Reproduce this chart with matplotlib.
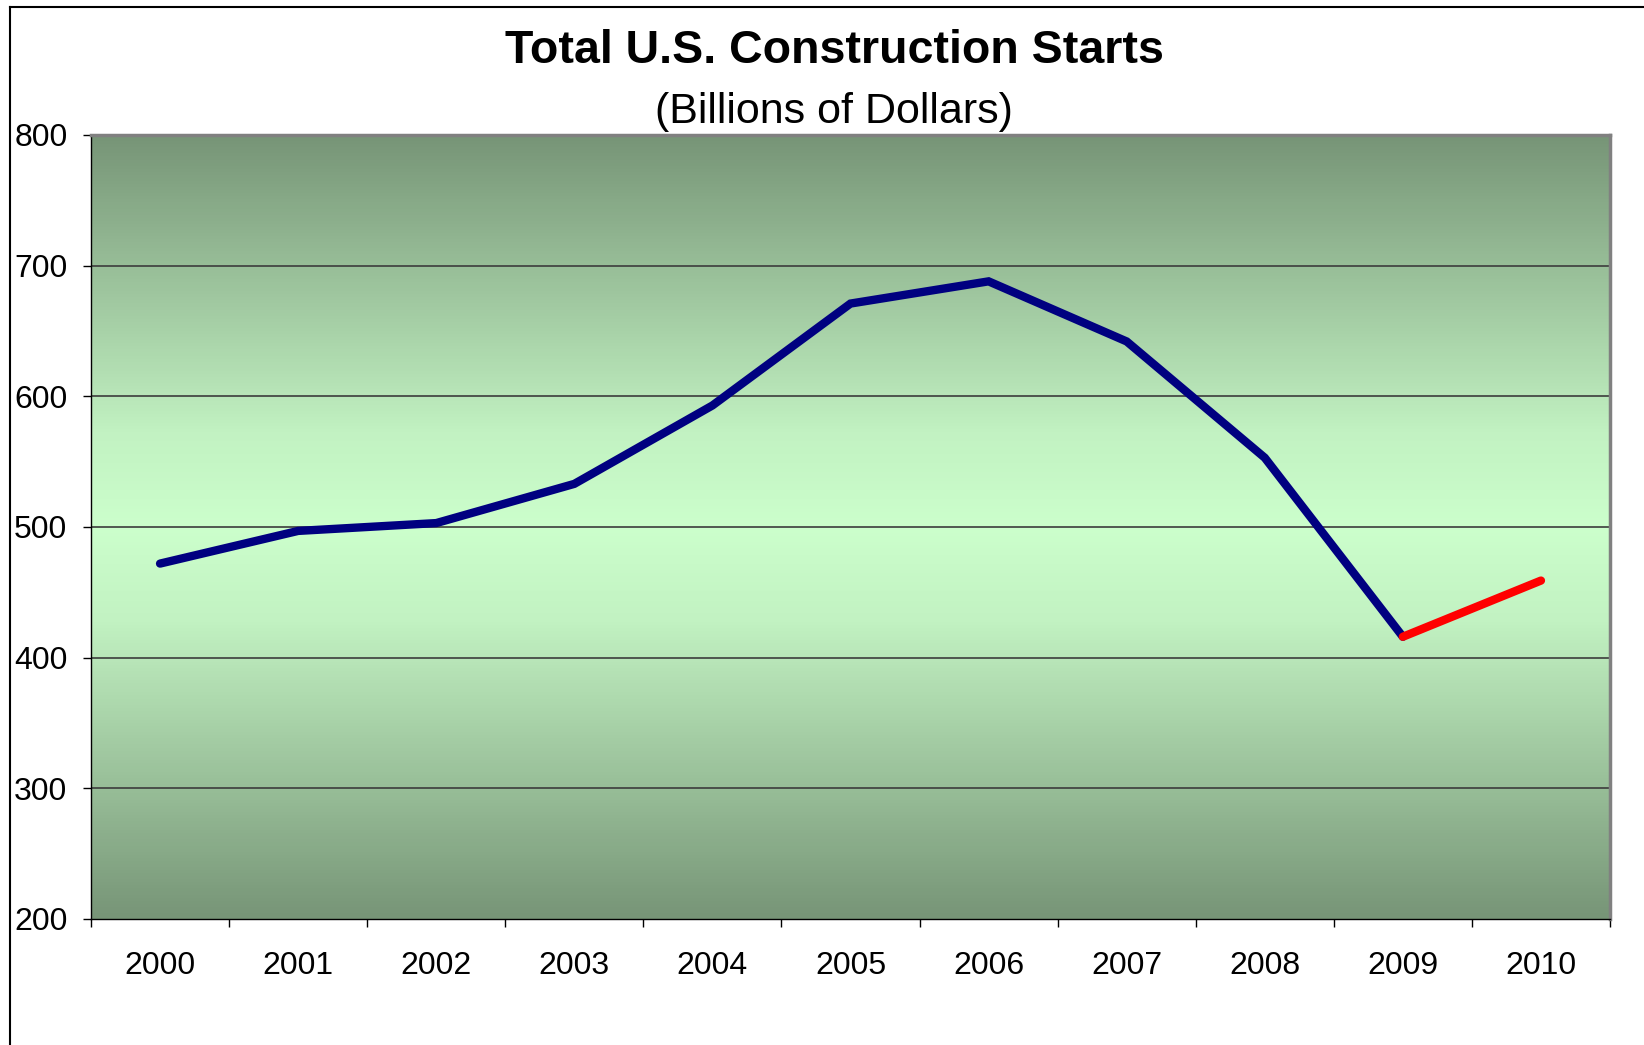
import numpy as np
import matplotlib
matplotlib.use("Agg")
import matplotlib.pyplot as plt
from matplotlib.colors import LinearSegmentedColormap
from matplotlib.lines import Line2D

plt.rcParams['font.family'] = ['Liberation Sans', 'DejaVu Sans']

years = ['2000', '2001', '2002', '2003', '2004', '2005',
         '2006', '2007', '2008', '2009', '2010']
starts = [472, 497, 503, 533, 593, 671, 688, 642, 553, 416, 459]
# last segment (2009 -> 2010) is drawn in red
forecast_from = 9

fig = plt.figure(figsize=(16.44, 10.45), dpi=100)
fig.patch.set_facecolor('white')

# outer chart border (only left and top show in the original)
fig.add_artist(Line2D([10 / 1644, 10 / 1644], [0, 1 - 7 / 1045],
                      color='black', lw=1.5, transform=fig.transFigure))
fig.add_artist(Line2D([10 / 1644, 1], [1 - 7 / 1045, 1 - 7 / 1045],
                      color='black', lw=1.5, transform=fig.transFigure))

ax = fig.add_axes([91 / 1644, 1 - 919 / 1045, (1610 - 91) / 1644, (919 - 135) / 1045])

x = np.arange(len(years))
ax.set_xlim(-0.5, len(years) - 0.5)
ax.set_ylim(200, 800)

# background gradient: dark green at edges, light green in the middle
cmap = LinearSegmentedColormap.from_list(
    'bg', [(0, '#779577'), (0.38, '#c2f2c2'), (0.5, '#ccffcc'),
           (0.62, '#c2f2c2'), (1, '#779577')])
grad = np.linspace(0, 1, 256).reshape(-1, 1)
ax.imshow(grad, cmap=cmap, aspect='auto', extent=(-0.5, len(years) - 0.5, 200, 800),
          origin='lower', zorder=0)

for gy in [300, 400, 500, 600, 700]:
    ax.axhline(gy, color='#3c3c3c', lw=1.2, zorder=1)

ax.plot(x[:forecast_from + 1], starts[:forecast_from + 1], color='#000080', lw=6,
        solid_capstyle='round', solid_joinstyle='miter', zorder=3)
ax.plot(x[forecast_from:], starts[forecast_from:], color='#ff0000', lw=6,
        solid_capstyle='round', zorder=4)

# ticks between categories, labels centred on categories
ax.set_xticks(np.arange(-0.5, len(years), 1.0))
ax.set_xticklabels([])
ax.set_xticks(x, minor=True)
ax.set_xticklabels(years, minor=True, fontsize=23)
ax.tick_params(axis='x', which='major', direction='out', length=6, width=1, color='black')
ax.tick_params(axis='x', which='minor', length=0, pad=23)
ax.set_yticks([200, 300, 400, 500, 600, 700, 800])
ax.tick_params(axis='y', direction='out', length=6, width=1, pad=11, labelsize=23)

for side in ['left', 'bottom']:
    ax.spines[side].set_color('black')
    ax.spines[side].set_linewidth(1)
for side in ['top', 'right']:
    ax.spines[side].set_color('#808080')
    ax.spines[side].set_linewidth(2.5)

fig.text(834 / 1644, 1 - 51 / 1045, 'Total U.S. Construction Starts', ha='center',
         va='center', fontsize=33.5, fontweight='bold')
fig.text(834 / 1644, 1 - 112 / 1045, '(Billions of Dollars)', ha='center',
         va='center', fontsize=31)

fig.savefig('out.png', dpi=100, facecolor='white')
